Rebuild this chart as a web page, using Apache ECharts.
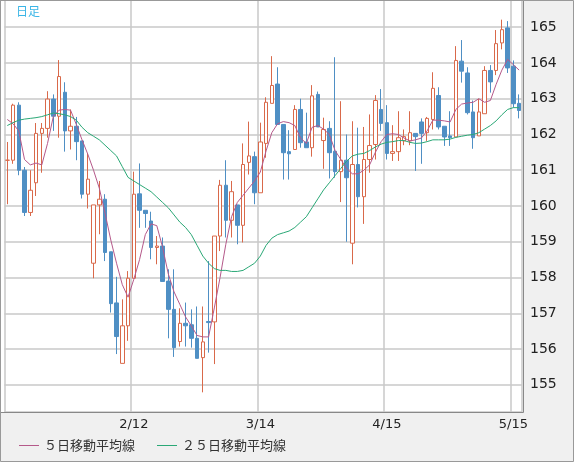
<!DOCTYPE html>
<html>
<head>
<meta charset="utf-8">
<script src="https://cdn.jsdelivr.net/npm/echarts@6/dist/echarts.min.js"></script>
<style>
  html, body { margin: 0; padding: 0; background: #f0f0f0; }
  #main { width: 574px; height: 462px; }
</style>
</head>
<body>
<div id="main"></div>
<script>
// 日足データ
var opens = [161.28,161.28,162.82,161.0,159.82,160.65,162.03,162.17,162.99,162.51,
  163.18,162.1,162.23,161.82,160.33,158.4,160.03,160.19,158.72,157.29,
  155.6,156.65,157.98,160.34,159.88,159.58,158.84,158.88,157.9,157.11,
  156.21,156.72,156.68,156.3,155.76,156.77,156.76,159.16,160.58,159.6,
  160.03,159.46,161.22,161.38,160.37,161.75,162.87,163.41,162.28,161.52,
  161.58,162.7,161.79,161.63,163.12,161.83,162.17,161.53,160.96,161.28,
  158.96,161.16,160.26,161.3,161.72,162.7,162.33,161.47,161.52,161.82,
  161.82,162.03,162.35,162.05,162.42,163.09,162.23,161.96,161.93,164.05,
  163.72,162.63,161.96,162.58,163.79,163.79,164.56,164.98,163.91,162.87];
var closes = [161.28,162.82,161.0,159.82,160.44,162.03,162.17,162.99,162.51,163.62,
  162.1,162.23,161.8,160.33,160.75,160.03,160.19,158.7,157.27,156.35,
  156.65,157.98,160.33,159.88,159.79,158.84,158.88,157.89,157.11,156.04,
  156.72,156.65,156.3,155.74,156.2,156.74,159.16,160.58,159.6,160.4,
  159.46,161.16,161.4,160.37,161.79,162.9,163.37,162.28,161.49,161.46,
  162.7,161.77,161.63,163.08,162.21,162.14,161.49,160.96,161.28,160.79,
  161.16,160.26,161.3,161.69,162.95,162.31,161.47,161.52,161.91,161.94,
  162.05,161.94,162.03,162.45,163.29,162.21,161.93,161.91,164.07,163.77,
  162.61,161.91,162.63,163.79,163.47,164.54,164.93,163.86,162.86,162.67];
var lows = [160.05,161.18,160.86,159.72,159.72,160.28,160.93,161.91,162.1,161.91,
  161.52,161.58,161.28,160.21,159.93,157.98,159.21,158.46,157.02,155.86,
  155.6,156.23,157.98,159.39,159.39,158.51,158.37,157.89,156.3,155.78,
  156.07,156.07,156.04,155.74,154.79,155.9,155.58,158.74,159.12,159.12,
  158.93,158.98,160.88,160.05,160.37,161.35,162.87,162.28,160.74,160.74,
  161.58,161.63,161.63,161.38,162.21,161.04,160.77,160.79,160.11,159.0,
  158.37,159.96,159.5,160.93,161.3,162.1,161.3,161.26,161.26,161.7,
  161.7,160.98,161.18,161.82,162.14,162.14,161.68,161.68,161.93,163.45,
  162.56,161.6,161.96,162.58,163.17,163.66,164.38,163.72,162.75,162.45];
var highs = [161.79,162.86,162.9,161.09,161.0,162.32,162.32,163.21,163.12,164.08,
  163.46,162.7,162.49,161.82,161.47,160.03,160.7,160.33,158.72,158.02,
  157.39,158.18,160.96,161.19,159.88,159.84,159.16,159.12,158.23,158.23,
  157.14,157.3,157.11,157.19,157.19,158.46,159.16,160.73,161.28,160.7,
  160.03,161.75,162.36,161.52,162.33,163.04,164.19,163.88,162.28,162.12,
  162.82,163.0,162.61,163.38,163.2,162.47,162.37,164.16,162.93,162.0,
  162.37,162.19,162.21,162.56,163.1,163.27,162.82,162.26,162.65,162.14,
  162.65,162.03,162.45,162.49,163.74,163.32,162.23,162.65,164.47,164.64,
  163.88,162.95,163.0,163.91,163.94,164.92,165.21,165.17,164.07,163.12];
var ma5 = [162.42,162.3,162.1,161.3,161.15,161.2,161.15,161.75,162.5,162.68,
  162.7,162.68,162.28,161.85,161.45,161.0,160.5,159.8,159.05,158.4,
  157.8,157.45,157.95,158.5,159.2,159.5,159.45,158.85,158.1,157.6,
  157.25,156.9,156.65,156.38,156.34,156.34,157.15,158.0,158.93,159.7,
  160.1,160.3,160.5,160.7,160.95,161.54,162.05,162.3,162.36,162.33,
  162.25,161.9,161.75,162.2,162.25,162.15,162.0,161.55,161.3,161.05,
  160.9,160.9,161.0,161.15,161.5,161.8,162.0,162.02,162.0,161.9,
  161.82,161.85,161.9,162.1,162.4,162.4,162.38,162.35,162.7,162.85,
  162.88,162.9,163.0,162.9,162.95,163.4,163.8,164.1,163.95,163.8];
var ma25 = [162.25,162.33,162.4,162.43,162.45,162.47,162.5,162.55,162.6,162.58,
  162.55,162.5,162.4,162.2,162.05,161.95,161.85,161.7,161.55,161.4,
  161.1,160.8,160.7,160.6,160.5,160.4,160.25,160.1,159.95,159.75,
  159.55,159.4,159.2,158.9,158.6,158.4,158.25,158.2,158.2,158.17,
  158.17,158.2,158.3,158.4,158.6,158.9,159.1,159.2,159.25,159.3,
  159.4,159.55,159.7,159.95,160.2,160.45,160.65,160.85,161.05,161.25,
  161.4,161.45,161.47,161.55,161.65,161.73,161.78,161.8,161.83,161.83,
  161.78,161.75,161.76,161.8,161.85,161.85,161.85,161.87,161.92,161.95,
  161.98,162.0,162.05,162.15,162.25,162.38,162.55,162.7,162.75,162.75];
var tickLabels = {22: '2/12', 44: '3/14', 66: '4/15', 88: '5/15'};

var days = opens.map(function (v, i) { return i; });
var kdata = opens.map(function (o, i) { return [o, closes[i], lows[i], highs[i]]; });

var chart = echarts.init(document.getElementById('main'));
chart.setOption({
  backgroundColor: '#f0f0f0',
  animation: false,
  textStyle: {fontFamily: 'DejaVu Sans'},
  grid: {left: 4.4, width: 517.6, top: 0, height: 412},
  graphic: [
    {type: 'rect', z: -1, shape: {x: 1, y: 0, width: 522, height: 412}, style: {fill: '#fff'}},
    {type: 'rect', z: 150, shape: {x: 0.5, y: 0.5, width: 523, height: 412}, style: {fill: null, stroke: '#888', lineWidth: 1}},
    {type: 'rect', z: 150, shape: {x: 0.5, y: 0.5, width: 573, height: 461}, style: {fill: null, stroke: '#999', lineWidth: 1}},
    {type: 'text', z: 150, left: 16, top: 5, style: {text: '日足', fill: '#3ab5e6', font: '12px "Noto Sans CJK JP"'}}
  ],
  legend: {
    left: 14, bottom: 5, itemWidth: 20, itemHeight: 1, itemGap: 22,
    icon: 'rect',
    textStyle: {fontFamily: 'Noto Sans CJK JP', fontSize: 13, color: '#333'},
    data: ['５日移動平均線', '２５日移動平均線']
  },
  xAxis: {
    type: 'category', data: days, boundaryGap: true,
    axisLine: {show: false}, axisTick: {show: false},
    splitLine: {show: true, interval: 21, lineStyle: {color: '#c8c8c8', width: 1.5}},
    axisLabel: {interval: 21, margin: 6, color: '#222', fontSize: 13,
      formatter: function (v) { return tickLabels[v] || ''; }}
  },
  yAxis: {
    type: 'value', position: 'right', min: 154.24, max: 165.76, splitNumber: 11,
    axisLine: {show: false}, axisTick: {show: false},
    axisLabel: {margin: 8, color: '#222', fontSize: 14, showMinLabel: false, showMaxLabel: false,
      formatter: function (v) { return Math.abs(v - Math.round(v)) > 0.01 ? '' : v; }},
    splitLine: {lineStyle: {color: '#c8c8c8', width: 1.5}}
  },
  series: [
    {type: 'candlestick', data: kdata, barWidth: 4,
      itemStyle: {color: '#ffffff', color0: '#4f8fc4', borderColor: '#d9694a', borderColor0: '#4f8fc4', borderWidth: 1}},
    {name: '５日移動平均線', type: 'line', data: ma5, symbol: 'none',
      lineStyle: {color: '#b5598a', width: 1}, itemStyle: {color: '#b5598a'}},
    {name: '２５日移動平均線', type: 'line', data: ma25, symbol: 'none',
      lineStyle: {color: '#2aa876', width: 1}, itemStyle: {color: '#2aa876'}}
  ]
});
</script>
</body>
</html>
